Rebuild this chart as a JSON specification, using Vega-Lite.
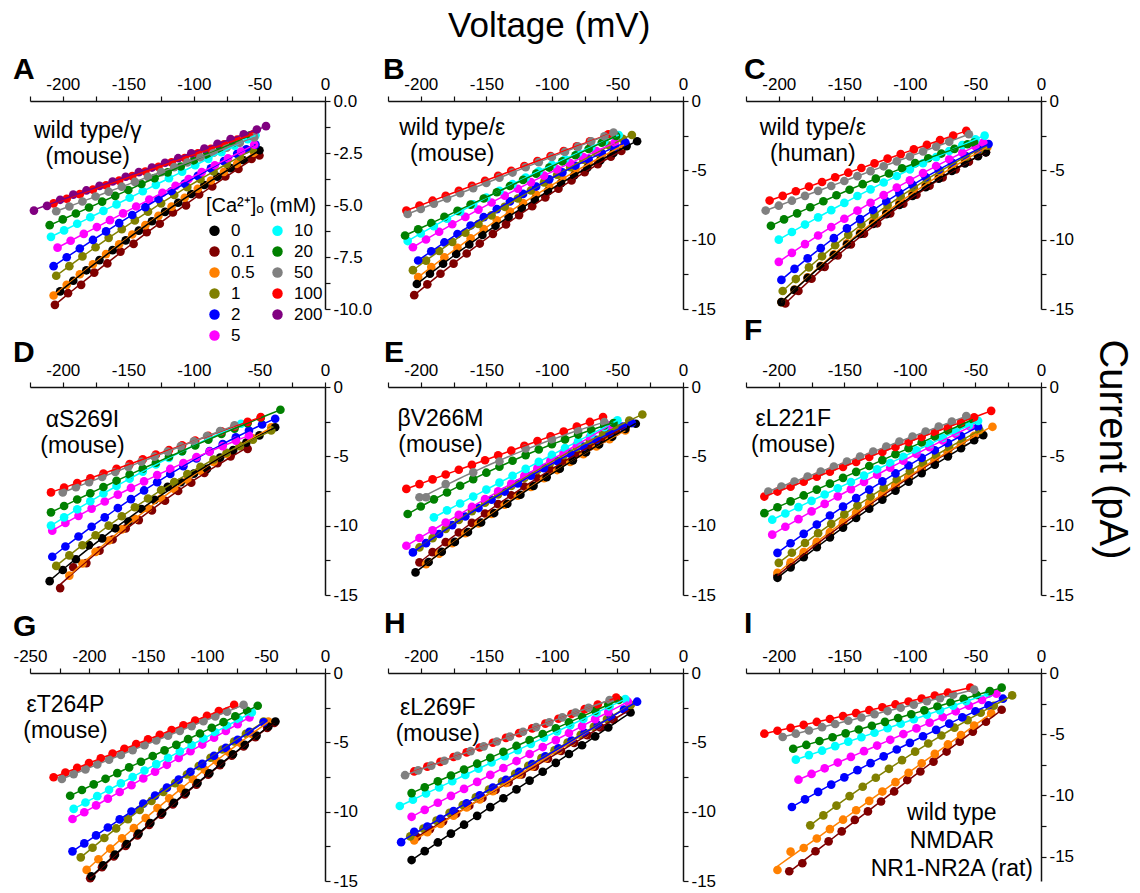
{
"$schema":"https://vega.github.io/schema/vega-lite/v6.json",
"padding":{"left":12,"top":9,"right":5,"bottom":0},
"background":"white",
"title":{"text":"Voltage (mV)","fontSize":35,"fontWeight":"normal","anchor":"start","frame":"group","offset":11,"dx":418},
"columns":3,
"spacing":{"row":78,"column":63},
"bounds":"flush",
"config":{
"font":"Liberation Sans",
"view":{"stroke":null},
"axis":{"grid":false,"domainColor":"#111","domainWidth":1.5,"tickColor":"#111","tickWidth":1.2,"tickSize":5,"labelFont":"Liberation Sans","labelFontSize":17,"labelColor":"#000","labelPadding":3,"labelFlush":false,"labelOverlap":false,"labelBound":false},
"title":{"font":"Liberation Sans","fontSize":30,"fontWeight":"bold","color":"#000","anchor":"start","frame":"group","offset":-10},
"legend":{"orient":"none","legendX":176,"legendY":95,"columns":2,"symbolType":"circle","symbolSize":110,"symbolStrokeWidth":0,"labelFont":"Liberation Sans","labelFontSize":17,"labelColor":"#000","titleFont":"Liberation Sans","titleFontSize":20,"titleFontWeight":"normal","titleColor":"#000","titlePadding":6,"rowPadding":3,"columnPadding":14,"labelOffset":8},
"text":{"font":"Liberation Sans","fontSize":23,"color":"#000","align":"center","baseline":"middle","lineHeight":26}
},
"datasets":{
"notes":[
{"p":"A","t":["wild type/γ","(mouse)"],"v":-181,"i":-1.44},
{"p":"B","t":["wild type/ε","(mouse)"],"v":-176,"i":-1.94},
{"p":"C","t":["wild type/ε","(human)"],"v":-174,"i":-1.94},
{"p":"D","t":["αS269I","(mouse)"],"v":-185,"i":-2.38},
{"p":"E","t":["βV266M","(mouse)"],"v":-185,"i":-2.31},
{"p":"F","t":["εL221F","(mouse)"],"v":-189,"i":-2.31},
{"p":"G","t":["εT264P","(mouse)"],"v":-220,"i":-2.31},
{"p":"H","t":["εL269F","(mouse)"],"v":-187,"i":-2.52},
{"p":"I","t":["wild type","NMDAR","NR1-NR2A (rat)"],"v":-68,"i":-11.46}
],
"A":[
{"c":0.1,"v":-206,"i":-9.8},{"c":0.1,"v":-196,"i":-9.24},{"c":0.1,"v":-186,"i":-8.84},{"c":0.1,"v":-176,"i":-8.25},{"c":0.1,"v":-166,"i":-7.81},{"c":0.1,"v":-156,"i":-7.24},{"c":0.1,"v":-146,"i":-6.87},{"c":0.1,"v":-136,"i":-6.31},{"c":0.1,"v":-126,"i":-5.9},{"c":0.1,"v":-116,"i":-5.36},{"c":0.1,"v":-106,"i":-5.02},{"c":0.1,"v":-96,"i":-4.49},{"c":0.1,"v":-86,"i":-4.11},{"c":0.1,"v":-76,"i":-3.63},{"c":0.1,"v":-66,"i":-3.27},{"c":0.1,"v":-56,"i":-2.79},{"c":0.1,"v":-50,"i":-2.62},
{"c":0.5,"v":-207,"i":-9.35},{"c":0.5,"v":-197,"i":-8.84},{"c":0.5,"v":-187,"i":-8.33},{"c":0.5,"v":-177,"i":-7.85},{"c":0.5,"v":-167,"i":-7.36},{"c":0.5,"v":-157,"i":-6.89},{"c":0.5,"v":-147,"i":-6.42},{"c":0.5,"v":-137,"i":-5.97},{"c":0.5,"v":-127,"i":-5.52},{"c":0.5,"v":-117,"i":-5.08},{"c":0.5,"v":-107,"i":-4.65},{"c":0.5,"v":-97,"i":-4.22},{"c":0.5,"v":-87,"i":-3.82},{"c":0.5,"v":-77,"i":-3.41},{"c":0.5,"v":-67,"i":-3.02},{"c":0.5,"v":-54,"i":-2.5},
{"c":0,"v":-202,"i":-9.15},{"c":0,"v":-192,"i":-8.64},{"c":0,"v":-182,"i":-8.14},{"c":0,"v":-172,"i":-7.65},{"c":0,"v":-162,"i":-7.17},{"c":0,"v":-152,"i":-6.7},{"c":0,"v":-142,"i":-6.23},{"c":0,"v":-132,"i":-5.78},{"c":0,"v":-122,"i":-5.33},{"c":0,"v":-112,"i":-4.89},{"c":0,"v":-102,"i":-4.47},{"c":0,"v":-92,"i":-4.04},{"c":0,"v":-82,"i":-3.64},{"c":0,"v":-72,"i":-3.23},{"c":0,"v":-62,"i":-2.85},{"c":0,"v":-50,"i":-2.37},
{"c":1,"v":-205,"i":-8.4},{"c":1,"v":-195,"i":-7.94},{"c":1,"v":-185,"i":-7.47},{"c":1,"v":-175,"i":-7.03},{"c":1,"v":-165,"i":-6.58},{"c":1,"v":-155,"i":-6.16},{"c":1,"v":-145,"i":-5.74},{"c":1,"v":-135,"i":-5.32},{"c":1,"v":-125,"i":-4.92},{"c":1,"v":-115,"i":-4.52},{"c":1,"v":-105,"i":-4.14},{"c":1,"v":-95,"i":-3.76},{"c":1,"v":-85,"i":-3.39},{"c":1,"v":-75,"i":-3.03},{"c":1,"v":-65,"i":-2.68},{"c":1,"v":-55,"i":-2.34},
{"c":2,"v":-207,"i":-7.94},{"c":2,"v":-197,"i":-7.51},{"c":2,"v":-187,"i":-7.09},{"c":2,"v":-177,"i":-6.68},{"c":2,"v":-167,"i":-6.27},{"c":2,"v":-157,"i":-5.87},{"c":2,"v":-147,"i":-5.48},{"c":2,"v":-137,"i":-5.1},{"c":2,"v":-127,"i":-4.71},{"c":2,"v":-117,"i":-4.34},{"c":2,"v":-107,"i":-3.97},{"c":2,"v":-97,"i":-3.6},{"c":2,"v":-87,"i":-3.24},{"c":2,"v":-77,"i":-2.89},{"c":2,"v":-67,"i":-2.54},{"c":2,"v":-60,"i":-2.32},{"c":2,"v":-53,"i":-2.1},
{"c":5,"v":-204,"i":-7.05},{"c":5,"v":-194,"i":-6.72},{"c":5,"v":-184,"i":-6.39},{"c":5,"v":-174,"i":-6.06},{"c":5,"v":-164,"i":-5.73},{"c":5,"v":-154,"i":-5.4},{"c":5,"v":-144,"i":-5.07},{"c":5,"v":-134,"i":-4.74},{"c":5,"v":-124,"i":-4.41},{"c":5,"v":-114,"i":-4.08},{"c":5,"v":-104,"i":-3.75},{"c":5,"v":-94,"i":-3.42},{"c":5,"v":-84,"i":-3.09},{"c":5,"v":-74,"i":-2.76},{"c":5,"v":-64,"i":-2.43},{"c":5,"v":-54,"i":-2.1},
{"c":10,"v":-209,"i":-6.53},{"c":10,"v":-199,"i":-6.22},{"c":10,"v":-189,"i":-5.9},{"c":10,"v":-179,"i":-5.59},{"c":10,"v":-169,"i":-5.28},{"c":10,"v":-159,"i":-4.97},{"c":10,"v":-149,"i":-4.65},{"c":10,"v":-139,"i":-4.34},{"c":10,"v":-129,"i":-4.03},{"c":10,"v":-119,"i":-3.71},{"c":10,"v":-109,"i":-3.4},{"c":10,"v":-99,"i":-3.09},{"c":10,"v":-89,"i":-2.78},{"c":10,"v":-79,"i":-2.46},{"c":10,"v":-69,"i":-2.15},{"c":10,"v":-59,"i":-1.84},{"c":10,"v":-53,"i":-1.65},
{"c":20,"v":-210,"i":-5.97},{"c":20,"v":-200,"i":-5.69},{"c":20,"v":-190,"i":-5.41},{"c":20,"v":-180,"i":-5.12},{"c":20,"v":-170,"i":-4.84},{"c":20,"v":-160,"i":-4.56},{"c":20,"v":-150,"i":-4.28},{"c":20,"v":-140,"i":-3.99},{"c":20,"v":-130,"i":-3.71},{"c":20,"v":-120,"i":-3.43},{"c":20,"v":-110,"i":-3.15},{"c":20,"v":-100,"i":-2.86},{"c":20,"v":-90,"i":-2.58},{"c":20,"v":-80,"i":-2.3},{"c":20,"v":-70,"i":-2.02},{"c":20,"v":-57,"i":-1.65},
{"c":100,"v":-207,"i":-4.92},{"c":100,"v":-197,"i":-4.7},{"c":100,"v":-187,"i":-4.48},{"c":100,"v":-177,"i":-4.26},{"c":100,"v":-167,"i":-4.05},{"c":100,"v":-157,"i":-3.83},{"c":100,"v":-147,"i":-3.61},{"c":100,"v":-137,"i":-3.39},{"c":100,"v":-127,"i":-3.17},{"c":100,"v":-117,"i":-2.95},{"c":100,"v":-107,"i":-2.74},{"c":100,"v":-97,"i":-2.52},{"c":100,"v":-87,"i":-2.3},{"c":100,"v":-77,"i":-2.08},{"c":100,"v":-67,"i":-1.86},{"c":100,"v":-55,"i":-1.6},
{"c":50,"v":-205,"i":-5.3},{"c":50,"v":-195,"i":-5.07},{"c":50,"v":-185,"i":-4.83},{"c":50,"v":-175,"i":-4.59},{"c":50,"v":-165,"i":-4.36},{"c":50,"v":-155,"i":-4.12},{"c":50,"v":-145,"i":-3.89},{"c":50,"v":-135,"i":-3.65},{"c":50,"v":-125,"i":-3.42},{"c":50,"v":-115,"i":-3.18},{"c":50,"v":-105,"i":-2.95},{"c":50,"v":-95,"i":-2.71},{"c":50,"v":-85,"i":-2.48},{"c":50,"v":-75,"i":-2.24},{"c":50,"v":-65,"i":-2.01},{"c":50,"v":-54,"i":-1.75},
{"c":200,"v":-222,"i":-5.27},{"c":200,"v":-212,"i":-5.04},{"c":200,"v":-202,"i":-4.75},{"c":200,"v":-192,"i":-4.5},{"c":200,"v":-182,"i":-4.3},{"c":200,"v":-172,"i":-4.08},{"c":200,"v":-162,"i":-3.87},{"c":200,"v":-152,"i":-3.64},{"c":200,"v":-142,"i":-3.42},{"c":200,"v":-132,"i":-3.2},{"c":200,"v":-122,"i":-2.97},{"c":200,"v":-112,"i":-2.75},{"c":200,"v":-102,"i":-2.52},{"c":200,"v":-92,"i":-2.29},{"c":200,"v":-82,"i":-2.06},{"c":200,"v":-72,"i":-1.83},{"c":200,"v":-62,"i":-1.6},{"c":200,"v":-52,"i":-1.37},{"c":200,"v":-45,"i":-1.21}
],
"B":[
{"c":0.1,"v":-205,"i":-14},{"c":0.1,"v":-195,"i":-13.22},{"c":0.1,"v":-185,"i":-12.46},{"c":0.1,"v":-175,"i":-11.73},{"c":0.1,"v":-165,"i":-11},{"c":0.1,"v":-155,"i":-10.28},{"c":0.1,"v":-145,"i":-9.58},{"c":0.1,"v":-135,"i":-8.9},{"c":0.1,"v":-125,"i":-8.23},{"c":0.1,"v":-115,"i":-7.59},{"c":0.1,"v":-105,"i":-6.95},{"c":0.1,"v":-95,"i":-6.33},{"c":0.1,"v":-85,"i":-5.73},{"c":0.1,"v":-75,"i":-5.14},{"c":0.1,"v":-65,"i":-4.56},{"c":0.1,"v":-55,"i":-4.01},{"c":0.1,"v":-47,"i":-3.6},
{"c":0.5,"v":-202,"i":-12.7},{"c":0.5,"v":-192,"i":-11.97},{"c":0.5,"v":-182,"i":-11.27},{"c":0.5,"v":-172,"i":-10.58},{"c":0.5,"v":-162,"i":-9.91},{"c":0.5,"v":-152,"i":-9.24},{"c":0.5,"v":-142,"i":-8.6},{"c":0.5,"v":-132,"i":-7.97},{"c":0.5,"v":-122,"i":-7.36},{"c":0.5,"v":-112,"i":-6.76},{"c":0.5,"v":-102,"i":-6.18},{"c":0.5,"v":-92,"i":-5.61},{"c":0.5,"v":-82,"i":-5.07},{"c":0.5,"v":-72,"i":-4.53},{"c":0.5,"v":-62,"i":-4.01},{"c":0.5,"v":-52,"i":-3.5},{"c":0.5,"v":-45,"i":-3.2},
{"c":0,"v":-203,"i":-13.2},{"c":0,"v":-193,"i":-12.46},{"c":0,"v":-183,"i":-11.74},{"c":0,"v":-173,"i":-11.03},{"c":0,"v":-163,"i":-10.34},{"c":0,"v":-153,"i":-9.66},{"c":0,"v":-143,"i":-9},{"c":0,"v":-133,"i":-8.36},{"c":0,"v":-123,"i":-7.72},{"c":0,"v":-113,"i":-7.11},{"c":0,"v":-103,"i":-6.51},{"c":0,"v":-93,"i":-5.93},{"c":0,"v":-83,"i":-5.37},{"c":0,"v":-73,"i":-4.81},{"c":0,"v":-63,"i":-4.27},{"c":0,"v":-53,"i":-3.75},{"c":0,"v":-43,"i":-3.25},{"c":0,"v":-35,"i":-2.9},
{"c":1,"v":-206,"i":-12.2},{"c":1,"v":-196,"i":-11.51},{"c":1,"v":-186,"i":-10.82},{"c":1,"v":-176,"i":-10.16},{"c":1,"v":-166,"i":-9.5},{"c":1,"v":-156,"i":-8.87},{"c":1,"v":-146,"i":-8.25},{"c":1,"v":-136,"i":-7.63},{"c":1,"v":-126,"i":-7.03},{"c":1,"v":-116,"i":-6.45},{"c":1,"v":-106,"i":-5.87},{"c":1,"v":-96,"i":-5.32},{"c":1,"v":-86,"i":-4.77},{"c":1,"v":-76,"i":-4.24},{"c":1,"v":-66,"i":-3.73},{"c":1,"v":-56,"i":-3.22},{"c":1,"v":-46,"i":-2.73},{"c":1,"v":-39,"i":-2.45},
{"c":2,"v":-202,"i":-11.5},{"c":2,"v":-192,"i":-10.84},{"c":2,"v":-182,"i":-10.2},{"c":2,"v":-172,"i":-9.59},{"c":2,"v":-162,"i":-8.98},{"c":2,"v":-152,"i":-8.38},{"c":2,"v":-142,"i":-7.8},{"c":2,"v":-132,"i":-7.24},{"c":2,"v":-122,"i":-6.7},{"c":2,"v":-112,"i":-6.17},{"c":2,"v":-102,"i":-5.65},{"c":2,"v":-92,"i":-5.15},{"c":2,"v":-82,"i":-4.67},{"c":2,"v":-72,"i":-4.21},{"c":2,"v":-62,"i":-3.75},{"c":2,"v":-52,"i":-3.31},{"c":2,"v":-44,"i":-3},
{"c":5,"v":-206,"i":-10.55},{"c":5,"v":-196,"i":-9.99},{"c":5,"v":-186,"i":-9.43},{"c":5,"v":-176,"i":-8.89},{"c":5,"v":-166,"i":-8.36},{"c":5,"v":-156,"i":-7.83},{"c":5,"v":-146,"i":-7.32},{"c":5,"v":-136,"i":-6.82},{"c":5,"v":-126,"i":-6.33},{"c":5,"v":-116,"i":-5.85},{"c":5,"v":-106,"i":-5.38},{"c":5,"v":-96,"i":-4.93},{"c":5,"v":-86,"i":-4.48},{"c":5,"v":-76,"i":-4.04},{"c":5,"v":-66,"i":-3.62},{"c":5,"v":-52,"i":-3},
{"c":10,"v":-210,"i":-10.1},{"c":10,"v":-200,"i":-9.55},{"c":10,"v":-190,"i":-9.02},{"c":10,"v":-180,"i":-8.49},{"c":10,"v":-170,"i":-7.98},{"c":10,"v":-160,"i":-7.46},{"c":10,"v":-150,"i":-6.97},{"c":10,"v":-140,"i":-6.48},{"c":10,"v":-130,"i":-6},{"c":10,"v":-120,"i":-5.53},{"c":10,"v":-110,"i":-5.07},{"c":10,"v":-100,"i":-4.61},{"c":10,"v":-90,"i":-4.18},{"c":10,"v":-80,"i":-3.74},{"c":10,"v":-70,"i":-3.32},{"c":10,"v":-60,"i":-2.9},{"c":10,"v":-49,"i":-2.45},
{"c":20,"v":-212,"i":-9.7},{"c":20,"v":-202,"i":-9.25},{"c":20,"v":-192,"i":-8.81},{"c":20,"v":-182,"i":-8.36},{"c":20,"v":-172,"i":-7.92},{"c":20,"v":-162,"i":-7.47},{"c":20,"v":-152,"i":-7.03},{"c":20,"v":-142,"i":-6.58},{"c":20,"v":-132,"i":-6.13},{"c":20,"v":-122,"i":-5.69},{"c":20,"v":-112,"i":-5.24},{"c":20,"v":-102,"i":-4.8},{"c":20,"v":-92,"i":-4.35},{"c":20,"v":-82,"i":-3.91},{"c":20,"v":-72,"i":-3.46},{"c":20,"v":-62,"i":-3.01},{"c":20,"v":-51,"i":-2.52},
{"c":100,"v":-211,"i":-7.9},{"c":100,"v":-201,"i":-7.54},{"c":100,"v":-191,"i":-7.19},{"c":100,"v":-181,"i":-6.83},{"c":100,"v":-171,"i":-6.47},{"c":100,"v":-161,"i":-6.11},{"c":100,"v":-151,"i":-5.76},{"c":100,"v":-141,"i":-5.4},{"c":100,"v":-131,"i":-5.04},{"c":100,"v":-121,"i":-4.69},{"c":100,"v":-111,"i":-4.33},{"c":100,"v":-101,"i":-3.97},{"c":100,"v":-91,"i":-3.61},{"c":100,"v":-81,"i":-3.26},{"c":100,"v":-71,"i":-2.9},{"c":100,"v":-57,"i":-2.4},
{"c":50,"v":-210,"i":-8.15},{"c":50,"v":-200,"i":-7.78},{"c":50,"v":-190,"i":-7.4},{"c":50,"v":-180,"i":-7.03},{"c":50,"v":-170,"i":-6.65},{"c":50,"v":-160,"i":-6.28},{"c":50,"v":-150,"i":-5.91},{"c":50,"v":-140,"i":-5.53},{"c":50,"v":-130,"i":-5.16},{"c":50,"v":-120,"i":-4.78},{"c":50,"v":-110,"i":-4.41},{"c":50,"v":-100,"i":-4.04},{"c":50,"v":-90,"i":-3.66},{"c":50,"v":-80,"i":-3.29},{"c":50,"v":-70,"i":-2.91},{"c":50,"v":-60,"i":-2.54},{"c":50,"v":-53,"i":-2.28}
],
"C":[
{"c":0.1,"v":-195,"i":-14.6},{"c":0.1,"v":-185,"i":-13.7},{"c":0.1,"v":-175,"i":-12.82},{"c":0.1,"v":-165,"i":-11.96},{"c":0.1,"v":-155,"i":-11.13},{"c":0.1,"v":-145,"i":-10.34},{"c":0.1,"v":-135,"i":-9.57},{"c":0.1,"v":-125,"i":-8.82},{"c":0.1,"v":-115,"i":-8.1},{"c":0.1,"v":-105,"i":-7.41},{"c":0.1,"v":-95,"i":-6.76},{"c":0.1,"v":-85,"i":-6.11},{"c":0.1,"v":-75,"i":-5.51},{"c":0.1,"v":-65,"i":-4.93},{"c":0.1,"v":-55,"i":-4.38},{"c":0.1,"v":-42,"i":-3.7},
{"c":0.5,"v":-198,"i":-14.5},{"c":0.5,"v":-188,"i":-13.6},{"c":0.5,"v":-178,"i":-12.72},{"c":0.5,"v":-168,"i":-11.88},{"c":0.5,"v":-158,"i":-11.05},{"c":0.5,"v":-148,"i":-10.26},{"c":0.5,"v":-138,"i":-9.48},{"c":0.5,"v":-128,"i":-8.74},{"c":0.5,"v":-118,"i":-8.02},{"c":0.5,"v":-108,"i":-7.33},{"c":0.5,"v":-98,"i":-6.66},{"c":0.5,"v":-88,"i":-6.02},{"c":0.5,"v":-78,"i":-5.4},{"c":0.5,"v":-68,"i":-4.81},{"c":0.5,"v":-58,"i":-4.25},{"c":0.5,"v":-48,"i":-3.71},{"c":0.5,"v":-41,"i":-3.35},
{"c":0,"v":-198,"i":-14.5},{"c":0,"v":-188,"i":-13.62},{"c":0,"v":-178,"i":-12.76},{"c":0,"v":-168,"i":-11.93},{"c":0,"v":-158,"i":-11.12},{"c":0,"v":-148,"i":-10.35},{"c":0,"v":-138,"i":-9.59},{"c":0,"v":-128,"i":-8.86},{"c":0,"v":-118,"i":-8.16},{"c":0,"v":-108,"i":-7.49},{"c":0,"v":-98,"i":-6.84},{"c":0,"v":-88,"i":-6.21},{"c":0,"v":-78,"i":-5.61},{"c":0,"v":-68,"i":-5.04},{"c":0,"v":-58,"i":-4.5},{"c":0,"v":-48,"i":-3.98},{"c":0,"v":-42,"i":-3.7},
{"c":1,"v":-197,"i":-13.7},{"c":1,"v":-187,"i":-12.84},{"c":1,"v":-177,"i":-12},{"c":1,"v":-167,"i":-11.2},{"c":1,"v":-157,"i":-10.4},{"c":1,"v":-147,"i":-9.65},{"c":1,"v":-137,"i":-8.91},{"c":1,"v":-127,"i":-8.21},{"c":1,"v":-117,"i":-7.53},{"c":1,"v":-107,"i":-6.88},{"c":1,"v":-97,"i":-6.25},{"c":1,"v":-87,"i":-5.65},{"c":1,"v":-77,"i":-5.07},{"c":1,"v":-67,"i":-4.51},{"c":1,"v":-57,"i":-3.99},{"c":1,"v":-47,"i":-3.49},{"c":1,"v":-41,"i":-3.23},
{"c":2,"v":-198,"i":-12.9},{"c":2,"v":-188,"i":-12.11},{"c":2,"v":-178,"i":-11.35},{"c":2,"v":-168,"i":-10.61},{"c":2,"v":-158,"i":-9.89},{"c":2,"v":-148,"i":-9.19},{"c":2,"v":-138,"i":-8.52},{"c":2,"v":-128,"i":-7.87},{"c":2,"v":-118,"i":-7.24},{"c":2,"v":-108,"i":-6.63},{"c":2,"v":-98,"i":-6.05},{"c":2,"v":-88,"i":-5.49},{"c":2,"v":-78,"i":-4.96},{"c":2,"v":-68,"i":-4.44},{"c":2,"v":-58,"i":-3.95},{"c":2,"v":-48,"i":-3.48},{"c":2,"v":-40,"i":-3.1},
{"c":5,"v":-200,"i":-11.6},{"c":5,"v":-190,"i":-10.95},{"c":5,"v":-180,"i":-10.32},{"c":5,"v":-170,"i":-9.7},{"c":5,"v":-160,"i":-9.09},{"c":5,"v":-150,"i":-8.49},{"c":5,"v":-140,"i":-7.91},{"c":5,"v":-130,"i":-7.34},{"c":5,"v":-120,"i":-6.79},{"c":5,"v":-110,"i":-6.25},{"c":5,"v":-100,"i":-5.72},{"c":5,"v":-90,"i":-5.2},{"c":5,"v":-80,"i":-4.69},{"c":5,"v":-70,"i":-4.2},{"c":5,"v":-60,"i":-3.73},{"c":5,"v":-50,"i":-3.26},{"c":5,"v":-44,"i":-3},
{"c":10,"v":-200,"i":-10},{"c":10,"v":-190,"i":-9.45},{"c":10,"v":-180,"i":-8.91},{"c":10,"v":-170,"i":-8.39},{"c":10,"v":-160,"i":-7.87},{"c":10,"v":-150,"i":-7.35},{"c":10,"v":-140,"i":-6.85},{"c":10,"v":-130,"i":-6.37},{"c":10,"v":-120,"i":-5.88},{"c":10,"v":-110,"i":-5.41},{"c":10,"v":-100,"i":-4.94},{"c":10,"v":-90,"i":-4.49},{"c":10,"v":-80,"i":-4.05},{"c":10,"v":-70,"i":-3.61},{"c":10,"v":-60,"i":-3.18},{"c":10,"v":-50,"i":-2.76},{"c":10,"v":-43,"i":-2.5},
{"c":20,"v":-206,"i":-9},{"c":20,"v":-196,"i":-8.54},{"c":20,"v":-186,"i":-8.1},{"c":20,"v":-176,"i":-7.66},{"c":20,"v":-166,"i":-7.23},{"c":20,"v":-156,"i":-6.8},{"c":20,"v":-146,"i":-6.4},{"c":20,"v":-136,"i":-6},{"c":20,"v":-126,"i":-5.6},{"c":20,"v":-116,"i":-5.23},{"c":20,"v":-106,"i":-4.85},{"c":20,"v":-96,"i":-4.48},{"c":20,"v":-86,"i":-4.13},{"c":20,"v":-76,"i":-3.79},{"c":20,"v":-66,"i":-3.45},{"c":20,"v":-56,"i":-3.12},{"c":20,"v":-51,"i":-3},
{"c":100,"v":-207,"i":-7.18},{"c":100,"v":-197,"i":-6.84},{"c":100,"v":-187,"i":-6.51},{"c":100,"v":-177,"i":-6.17},{"c":100,"v":-167,"i":-5.84},{"c":100,"v":-157,"i":-5.5},{"c":100,"v":-147,"i":-5.17},{"c":100,"v":-137,"i":-4.83},{"c":100,"v":-127,"i":-4.5},{"c":100,"v":-117,"i":-4.16},{"c":100,"v":-107,"i":-3.83},{"c":100,"v":-97,"i":-3.49},{"c":100,"v":-87,"i":-3.16},{"c":100,"v":-77,"i":-2.82},{"c":100,"v":-67,"i":-2.49},{"c":100,"v":-57,"i":-2.15},
{"c":50,"v":-210,"i":-7.9},{"c":50,"v":-200,"i":-7.55},{"c":50,"v":-190,"i":-7.19},{"c":50,"v":-180,"i":-6.84},{"c":50,"v":-170,"i":-6.48},{"c":50,"v":-160,"i":-6.13},{"c":50,"v":-150,"i":-5.77},{"c":50,"v":-140,"i":-5.42},{"c":50,"v":-130,"i":-5.06},{"c":50,"v":-120,"i":-4.71},{"c":50,"v":-110,"i":-4.35},{"c":50,"v":-100,"i":-4},{"c":50,"v":-90,"i":-3.64},{"c":50,"v":-80,"i":-3.29},{"c":50,"v":-70,"i":-2.93},{"c":50,"v":-55,"i":-2.4}
],
"D":[
{"c":0.1,"v":-202,"i":-14.5},{"c":0.1,"v":-192,"i":-13},{"c":0.1,"v":-182,"i":-12.7},{"c":0.1,"v":-172,"i":-11.8},{"c":0.1,"v":-162,"i":-11},{"c":0.1,"v":-152,"i":-10.2},{"c":0.1,"v":-142,"i":-9.6},{"c":0.1,"v":-132,"i":-8.9},{"c":0.1,"v":-122,"i":-8.2},{"c":0.1,"v":-112,"i":-7.5},{"c":0.1,"v":-102,"i":-6.9},{"c":0.1,"v":-92,"i":-6.2},{"c":0.1,"v":-82,"i":-5.5},{"c":0.1,"v":-72,"i":-5},{"c":0.1,"v":-59,"i":-4.46},
{"c":0.5,"v":-195,"i":-13.6},{"c":0.5,"v":-185,"i":-12.73},{"c":0.5,"v":-175,"i":-11.89},{"c":0.5,"v":-165,"i":-11.07},{"c":0.5,"v":-155,"i":-10.27},{"c":0.5,"v":-145,"i":-9.51},{"c":0.5,"v":-135,"i":-8.76},{"c":0.5,"v":-125,"i":-8.04},{"c":0.5,"v":-115,"i":-7.35},{"c":0.5,"v":-105,"i":-6.68},{"c":0.5,"v":-95,"i":-6.04},{"c":0.5,"v":-85,"i":-5.41},{"c":0.5,"v":-75,"i":-4.82},{"c":0.5,"v":-65,"i":-4.25},{"c":0.5,"v":-55,"i":-3.7},{"c":0.5,"v":-41,"i":-2.9},
{"c":0,"v":-210,"i":-14},{"c":0,"v":-200,"i":-13.2},{"c":0,"v":-190,"i":-12.42},{"c":0,"v":-180,"i":-11.4},{"c":0,"v":-170,"i":-10.92},{"c":0,"v":-160,"i":-10.19},{"c":0,"v":-150,"i":-9.7},{"c":0,"v":-140,"i":-8.8},{"c":0,"v":-130,"i":-8.14},{"c":0,"v":-120,"i":-7.2},{"c":0,"v":-110,"i":-6.87},{"c":0,"v":-100,"i":-6.25},{"c":0,"v":-90,"i":-5.9},{"c":0,"v":-80,"i":-5.09},{"c":0,"v":-70,"i":-4.55},{"c":0,"v":-60,"i":-4.01},{"c":0,"v":-50,"i":-3.49},{"c":0,"v":-38,"i":-2.9},
{"c":1,"v":-205,"i":-12.9},{"c":1,"v":-195,"i":-12.14},{"c":1,"v":-185,"i":-11.41},{"c":1,"v":-175,"i":-10.69},{"c":1,"v":-165,"i":-10},{"c":1,"v":-155,"i":-9.32},{"c":1,"v":-145,"i":-8.67},{"c":1,"v":-135,"i":-8.04},{"c":1,"v":-125,"i":-7.43},{"c":1,"v":-115,"i":-6.85},{"c":1,"v":-105,"i":-6.28},{"c":1,"v":-95,"i":-5.75},{"c":1,"v":-85,"i":-5.23},{"c":1,"v":-75,"i":-4.74},{"c":1,"v":-65,"i":-4.26},{"c":1,"v":-55,"i":-3.8},{"c":1,"v":-41,"i":-3.13},
{"c":2,"v":-208,"i":-12.24},{"c":2,"v":-198,"i":-11.5},{"c":2,"v":-188,"i":-10.78},{"c":2,"v":-178,"i":-10.08},{"c":2,"v":-168,"i":-9.4},{"c":2,"v":-158,"i":-8.73},{"c":2,"v":-148,"i":-8.09},{"c":2,"v":-138,"i":-7.46},{"c":2,"v":-128,"i":-6.86},{"c":2,"v":-118,"i":-6.27},{"c":2,"v":-108,"i":-5.71},{"c":2,"v":-98,"i":-5.15},{"c":2,"v":-88,"i":-4.63},{"c":2,"v":-78,"i":-4.11},{"c":2,"v":-68,"i":-3.63},{"c":2,"v":-58,"i":-3.15},{"c":2,"v":-48,"i":-2.7},{"c":2,"v":-38,"i":-2.29},
{"c":5,"v":-208,"i":-10.36},{"c":5,"v":-198,"i":-9.81},{"c":5,"v":-188,"i":-9.29},{"c":5,"v":-178,"i":-8.77},{"c":5,"v":-168,"i":-8.26},{"c":5,"v":-158,"i":-7.76},{"c":5,"v":-148,"i":-7.28},{"c":5,"v":-138,"i":-6.81},{"c":5,"v":-128,"i":-6.35},{"c":5,"v":-118,"i":-5.91},{"c":5,"v":-108,"i":-5.48},{"c":5,"v":-98,"i":-5.06},{"c":5,"v":-88,"i":-4.66},{"c":5,"v":-78,"i":-4.26},{"c":5,"v":-68,"i":-3.87},{"c":5,"v":-58,"i":-3.5},
{"c":10,"v":-209,"i":-10},{"c":10,"v":-199,"i":-9.4},{"c":10,"v":-189,"i":-8.82},{"c":10,"v":-179,"i":-8.24},{"c":10,"v":-169,"i":-7.68},{"c":10,"v":-159,"i":-7.14},{"c":10,"v":-149,"i":-6.61},{"c":10,"v":-139,"i":-6.1},{"c":10,"v":-129,"i":-5.59},{"c":10,"v":-119,"i":-5.11},{"c":10,"v":-109,"i":-4.64},{"c":10,"v":-99,"i":-4.18},{"c":10,"v":-89,"i":-3.75},{"c":10,"v":-79,"i":-3.32},{"c":10,"v":-64,"i":-2.65},
{"c":20,"v":-209,"i":-9.04},{"c":20,"v":-199,"i":-8.58},{"c":20,"v":-189,"i":-8.11},{"c":20,"v":-179,"i":-7.66},{"c":20,"v":-169,"i":-7.21},{"c":20,"v":-159,"i":-6.76},{"c":20,"v":-149,"i":-6.32},{"c":20,"v":-139,"i":-5.89},{"c":20,"v":-129,"i":-5.46},{"c":20,"v":-119,"i":-5.03},{"c":20,"v":-109,"i":-4.62},{"c":20,"v":-99,"i":-4.21},{"c":20,"v":-89,"i":-3.8},{"c":20,"v":-79,"i":-3.39},{"c":20,"v":-69,"i":-3},{"c":20,"v":-59,"i":-2.61},{"c":20,"v":-49,"i":-2.22},{"c":20,"v":-34,"i":-1.64},
{"c":100,"v":-209,"i":-7.6},{"c":100,"v":-199,"i":-7.26},{"c":100,"v":-189,"i":-6.92},{"c":100,"v":-179,"i":-6.58},{"c":100,"v":-169,"i":-6.24},{"c":100,"v":-159,"i":-5.9},{"c":100,"v":-149,"i":-5.56},{"c":100,"v":-139,"i":-5.22},{"c":100,"v":-129,"i":-4.88},{"c":100,"v":-119,"i":-4.55},{"c":100,"v":-109,"i":-4.21},{"c":100,"v":-99,"i":-3.87},{"c":100,"v":-89,"i":-3.53},{"c":100,"v":-79,"i":-3.19},{"c":100,"v":-69,"i":-2.85},{"c":100,"v":-59,"i":-2.51},{"c":100,"v":-49,"i":-2.17},
{"c":50,"v":-200,"i":-7.6},{"c":50,"v":-190,"i":-7.23},{"c":50,"v":-180,"i":-6.86},{"c":50,"v":-170,"i":-6.49},{"c":50,"v":-160,"i":-6.13},{"c":50,"v":-150,"i":-5.76},{"c":50,"v":-140,"i":-5.39},{"c":50,"v":-130,"i":-5.02},{"c":50,"v":-120,"i":-4.65},{"c":50,"v":-110,"i":-4.28},{"c":50,"v":-100,"i":-3.91},{"c":50,"v":-90,"i":-3.54},{"c":50,"v":-80,"i":-3.18},{"c":50,"v":-69,"i":-2.77}
],
"E":[
{"c":0.1,"v":-201,"i":-12.65},{"c":0.1,"v":-191,"i":-11.91},{"c":0.1,"v":-181,"i":-11.19},{"c":0.1,"v":-171,"i":-10.49},{"c":0.1,"v":-161,"i":-9.8},{"c":0.1,"v":-151,"i":-9.12},{"c":0.1,"v":-141,"i":-8.45},{"c":0.1,"v":-131,"i":-7.81},{"c":0.1,"v":-121,"i":-7.18},{"c":0.1,"v":-111,"i":-6.57},{"c":0.1,"v":-101,"i":-5.97},{"c":0.1,"v":-91,"i":-5.39},{"c":0.1,"v":-81,"i":-4.83},{"c":0.1,"v":-71,"i":-4.28},{"c":0.1,"v":-61,"i":-3.74},{"c":0.1,"v":-51,"i":-3.22},{"c":0.1,"v":-44,"i":-2.9},
{"c":0.5,"v":-196,"i":-12.77},{"c":0.5,"v":-186,"i":-12.02},{"c":0.5,"v":-176,"i":-11.27},{"c":0.5,"v":-166,"i":-10.55},{"c":0.5,"v":-156,"i":-9.84},{"c":0.5,"v":-146,"i":-9.16},{"c":0.5,"v":-136,"i":-8.48},{"c":0.5,"v":-126,"i":-7.83},{"c":0.5,"v":-116,"i":-7.2},{"c":0.5,"v":-106,"i":-6.58},{"c":0.5,"v":-96,"i":-5.99},{"c":0.5,"v":-86,"i":-5.4},{"c":0.5,"v":-76,"i":-4.84},{"c":0.5,"v":-66,"i":-4.29},{"c":0.5,"v":-56,"i":-3.77},{"c":0.5,"v":-44,"i":-3.13},
{"c":0,"v":-204,"i":-13.37},{"c":0,"v":-194,"i":-12.62},{"c":0,"v":-184,"i":-11.88},{"c":0,"v":-174,"i":-11.17},{"c":0,"v":-164,"i":-10.46},{"c":0,"v":-154,"i":-9.77},{"c":0,"v":-144,"i":-9.09},{"c":0,"v":-134,"i":-8.42},{"c":0,"v":-124,"i":-7.77},{"c":0,"v":-114,"i":-7.13},{"c":0,"v":-104,"i":-6.5},{"c":0,"v":-94,"i":-5.89},{"c":0,"v":-84,"i":-5.29},{"c":0,"v":-74,"i":-4.71},{"c":0,"v":-64,"i":-4.14},{"c":0,"v":-54,"i":-3.58},{"c":0,"v":-44,"i":-3.03},{"c":0,"v":-36,"i":-2.65},
{"c":1,"v":-201,"i":-11.57},{"c":1,"v":-191,"i":-10.9},{"c":1,"v":-181,"i":-10.23},{"c":1,"v":-171,"i":-9.59},{"c":1,"v":-161,"i":-8.95},{"c":1,"v":-151,"i":-8.34},{"c":1,"v":-141,"i":-7.74},{"c":1,"v":-131,"i":-7.14},{"c":1,"v":-121,"i":-6.56},{"c":1,"v":-111,"i":-5.99},{"c":1,"v":-101,"i":-5.44},{"c":1,"v":-91,"i":-4.91},{"c":1,"v":-81,"i":-4.38},{"c":1,"v":-71,"i":-3.87},{"c":1,"v":-61,"i":-3.37},{"c":1,"v":-51,"i":-2.89},{"c":1,"v":-41,"i":-2.42},{"c":1,"v":-31,"i":-1.98},
{"c":2,"v":-206,"i":-11.93},{"c":2,"v":-196,"i":-11.26},{"c":2,"v":-186,"i":-10.6},{"c":2,"v":-176,"i":-9.96},{"c":2,"v":-166,"i":-9.34},{"c":2,"v":-156,"i":-8.73},{"c":2,"v":-146,"i":-8.13},{"c":2,"v":-136,"i":-7.54},{"c":2,"v":-126,"i":-6.96},{"c":2,"v":-116,"i":-6.4},{"c":2,"v":-106,"i":-5.85},{"c":2,"v":-96,"i":-5.33},{"c":2,"v":-86,"i":-4.81},{"c":2,"v":-76,"i":-4.3},{"c":2,"v":-66,"i":-3.81},{"c":2,"v":-56,"i":-3.33},{"c":2,"v":-46,"i":-2.86},{"c":2,"v":-39,"i":-2.6},
{"c":5,"v":-211,"i":-11.45},{"c":5,"v":-201,"i":-10.89},{"c":5,"v":-191,"i":-10.33},{"c":5,"v":-181,"i":-9.77},{"c":5,"v":-171,"i":-9.21},{"c":5,"v":-161,"i":-8.65},{"c":5,"v":-151,"i":-8.09},{"c":5,"v":-141,"i":-7.53},{"c":5,"v":-131,"i":-6.97},{"c":5,"v":-121,"i":-6.41},{"c":5,"v":-111,"i":-5.85},{"c":5,"v":-101,"i":-5.29},{"c":5,"v":-91,"i":-4.73},{"c":5,"v":-81,"i":-4.17},{"c":5,"v":-71,"i":-3.61},{"c":5,"v":-56,"i":-2.77},
{"c":10,"v":-190,"i":-9.4},{"c":10,"v":-180,"i":-8.9},{"c":10,"v":-170,"i":-8.4},{"c":10,"v":-160,"i":-7.9},{"c":10,"v":-150,"i":-7.4},{"c":10,"v":-140,"i":-6.9},{"c":10,"v":-130,"i":-6.4},{"c":10,"v":-120,"i":-5.9},{"c":10,"v":-110,"i":-5.4},{"c":10,"v":-100,"i":-4.9},{"c":10,"v":-90,"i":-4.4},{"c":10,"v":-80,"i":-3.9},{"c":10,"v":-70,"i":-3.4},{"c":10,"v":-60,"i":-2.9},{"c":10,"v":-50,"i":-2.4},
{"c":20,"v":-210,"i":-9.16},{"c":20,"v":-200,"i":-8.62},{"c":20,"v":-190,"i":-8.1},{"c":20,"v":-180,"i":-7.61},{"c":20,"v":-170,"i":-7.12},{"c":20,"v":-160,"i":-6.64},{"c":20,"v":-150,"i":-6.18},{"c":20,"v":-140,"i":-5.75},{"c":20,"v":-130,"i":-5.32},{"c":20,"v":-120,"i":-4.91},{"c":20,"v":-110,"i":-4.51},{"c":20,"v":-100,"i":-4.13},{"c":20,"v":-90,"i":-3.78},{"c":20,"v":-80,"i":-3.43},{"c":20,"v":-70,"i":-3.09},{"c":20,"v":-60,"i":-2.77},{"c":20,"v":-53,"i":-2.6},
{"c":100,"v":-211,"i":-7.35},{"c":100,"v":-201,"i":-7},{"c":100,"v":-191,"i":-6.66},{"c":100,"v":-181,"i":-6.31},{"c":100,"v":-171,"i":-5.97},{"c":100,"v":-161,"i":-5.62},{"c":100,"v":-151,"i":-5.28},{"c":100,"v":-141,"i":-4.93},{"c":100,"v":-131,"i":-4.59},{"c":100,"v":-121,"i":-4.24},{"c":100,"v":-111,"i":-3.9},{"c":100,"v":-101,"i":-3.55},{"c":100,"v":-91,"i":-3.21},{"c":100,"v":-81,"i":-2.86},{"c":100,"v":-71,"i":-2.52},{"c":100,"v":-61,"i":-2.17},
{"c":50,"v":-201,"i":-7.95},{"c":50,"v":-196,"i":-7.95},{"c":50,"v":-181,"i":-7},{"c":50,"v":-160,"i":-6.16},{"c":50,"v":-140,"i":-5.37},{"c":50,"v":-120,"i":-4.43},{"c":50,"v":-100,"i":-3.78},{"c":50,"v":-80,"i":-3.16},{"c":50,"v":-60,"i":-2.53}
],
"F":[
{"c":0.1,"v":-201,"i":-13.6},{"c":0.1,"v":-191,"i":-12.83},{"c":0.1,"v":-181,"i":-12.08},{"c":0.1,"v":-171,"i":-11.33},{"c":0.1,"v":-161,"i":-10.61},{"c":0.1,"v":-151,"i":-9.9},{"c":0.1,"v":-141,"i":-9.21},{"c":0.1,"v":-131,"i":-8.52},{"c":0.1,"v":-121,"i":-7.85},{"c":0.1,"v":-111,"i":-7.2},{"c":0.1,"v":-101,"i":-6.55},{"c":0.1,"v":-91,"i":-5.93},{"c":0.1,"v":-81,"i":-5.31},{"c":0.1,"v":-71,"i":-4.72},{"c":0.1,"v":-61,"i":-4.14},{"c":0.1,"v":-51,"i":-3.57},
{"c":0.5,"v":-201,"i":-13.4},{"c":0.5,"v":-191,"i":-12.64},{"c":0.5,"v":-181,"i":-11.9},{"c":0.5,"v":-171,"i":-11.17},{"c":0.5,"v":-161,"i":-10.46},{"c":0.5,"v":-151,"i":-9.75},{"c":0.5,"v":-141,"i":-9.07},{"c":0.5,"v":-131,"i":-8.39},{"c":0.5,"v":-121,"i":-7.74},{"c":0.5,"v":-111,"i":-7.1},{"c":0.5,"v":-101,"i":-6.46},{"c":0.5,"v":-91,"i":-5.85},{"c":0.5,"v":-81,"i":-5.24},{"c":0.5,"v":-71,"i":-4.67},{"c":0.5,"v":-61,"i":-4.09},{"c":0.5,"v":-51,"i":-3.53},{"c":0.5,"v":-37,"i":-2.87},
{"c":0,"v":-201,"i":-13.76},{"c":0,"v":-191,"i":-13.01},{"c":0,"v":-181,"i":-12.28},{"c":0,"v":-171,"i":-11.55},{"c":0,"v":-161,"i":-10.84},{"c":0,"v":-151,"i":-10.14},{"c":0,"v":-141,"i":-9.45},{"c":0,"v":-131,"i":-8.78},{"c":0,"v":-121,"i":-8.12},{"c":0,"v":-111,"i":-7.47},{"c":0,"v":-101,"i":-6.83},{"c":0,"v":-91,"i":-6.21},{"c":0,"v":-81,"i":-5.6},{"c":0,"v":-71,"i":-5},{"c":0,"v":-61,"i":-4.42},{"c":0,"v":-51,"i":-3.84},{"c":0,"v":-44,"i":-3.47},
{"c":1,"v":-200,"i":-12.68},{"c":1,"v":-190,"i":-11.95},{"c":1,"v":-180,"i":-11.25},{"c":1,"v":-170,"i":-10.54},{"c":1,"v":-160,"i":-9.87},{"c":1,"v":-150,"i":-9.19},{"c":1,"v":-140,"i":-8.55},{"c":1,"v":-130,"i":-7.9},{"c":1,"v":-120,"i":-7.28},{"c":1,"v":-110,"i":-6.67},{"c":1,"v":-100,"i":-6.07},{"c":1,"v":-90,"i":-5.49},{"c":1,"v":-80,"i":-4.91},{"c":1,"v":-70,"i":-4.37},{"c":1,"v":-60,"i":-3.82},{"c":1,"v":-47,"i":-3.11},
{"c":2,"v":-201,"i":-11.96},{"c":2,"v":-191,"i":-11.27},{"c":2,"v":-181,"i":-10.59},{"c":2,"v":-171,"i":-9.92},{"c":2,"v":-161,"i":-9.27},{"c":2,"v":-151,"i":-8.63},{"c":2,"v":-141,"i":-8.01},{"c":2,"v":-131,"i":-7.4},{"c":2,"v":-121,"i":-6.81},{"c":2,"v":-111,"i":-6.23},{"c":2,"v":-101,"i":-5.66},{"c":2,"v":-91,"i":-5.11},{"c":2,"v":-81,"i":-4.57},{"c":2,"v":-71,"i":-4.05},{"c":2,"v":-61,"i":-3.54},{"c":2,"v":-48,"i":-2.87},
{"c":5,"v":-205,"i":-10.65},{"c":5,"v":-195,"i":-10.08},{"c":5,"v":-185,"i":-9.53},{"c":5,"v":-175,"i":-8.97},{"c":5,"v":-165,"i":-8.43},{"c":5,"v":-155,"i":-7.89},{"c":5,"v":-145,"i":-7.37},{"c":5,"v":-135,"i":-6.84},{"c":5,"v":-125,"i":-6.33},{"c":5,"v":-115,"i":-5.82},{"c":5,"v":-105,"i":-5.32},{"c":5,"v":-95,"i":-4.82},{"c":5,"v":-85,"i":-4.34},{"c":5,"v":-75,"i":-3.86},{"c":5,"v":-65,"i":-3.39},{"c":5,"v":-54,"i":-2.87},
{"c":10,"v":-205,"i":-9.57},{"c":10,"v":-195,"i":-9.12},{"c":10,"v":-185,"i":-8.66},{"c":10,"v":-175,"i":-8.21},{"c":10,"v":-165,"i":-7.75},{"c":10,"v":-155,"i":-7.3},{"c":10,"v":-145,"i":-6.85},{"c":10,"v":-135,"i":-6.39},{"c":10,"v":-125,"i":-5.94},{"c":10,"v":-115,"i":-5.48},{"c":10,"v":-105,"i":-5.03},{"c":10,"v":-95,"i":-4.57},{"c":10,"v":-85,"i":-4.12},{"c":10,"v":-75,"i":-3.67},{"c":10,"v":-65,"i":-3.21},{"c":10,"v":-55,"i":-2.76},{"c":10,"v":-48,"i":-2.44},
{"c":20,"v":-211,"i":-9.1},{"c":20,"v":-201,"i":-8.67},{"c":20,"v":-191,"i":-8.25},{"c":20,"v":-181,"i":-7.82},{"c":20,"v":-171,"i":-7.4},{"c":20,"v":-161,"i":-6.97},{"c":20,"v":-151,"i":-6.55},{"c":20,"v":-141,"i":-6.12},{"c":20,"v":-131,"i":-5.7},{"c":20,"v":-121,"i":-5.27},{"c":20,"v":-111,"i":-4.85},{"c":20,"v":-101,"i":-4.42},{"c":20,"v":-91,"i":-4},{"c":20,"v":-81,"i":-3.57},{"c":20,"v":-71,"i":-3.15},{"c":20,"v":-61,"i":-2.72},{"c":20,"v":-52,"i":-2.34},
{"c":100,"v":-211,"i":-7.9},{"c":100,"v":-201,"i":-7.54},{"c":100,"v":-191,"i":-7.19},{"c":100,"v":-181,"i":-6.83},{"c":100,"v":-171,"i":-6.47},{"c":100,"v":-161,"i":-6.11},{"c":100,"v":-151,"i":-5.76},{"c":100,"v":-141,"i":-5.4},{"c":100,"v":-131,"i":-5.04},{"c":100,"v":-121,"i":-4.69},{"c":100,"v":-111,"i":-4.33},{"c":100,"v":-101,"i":-3.97},{"c":100,"v":-91,"i":-3.61},{"c":100,"v":-81,"i":-3.26},{"c":100,"v":-71,"i":-2.9},{"c":100,"v":-61,"i":-2.54},{"c":100,"v":-51,"i":-2.19},{"c":100,"v":-38,"i":-1.72},
{"c":50,"v":-208,"i":-7.54},{"c":50,"v":-198,"i":-7.18},{"c":50,"v":-188,"i":-6.82},{"c":50,"v":-178,"i":-6.46},{"c":50,"v":-168,"i":-6.1},{"c":50,"v":-158,"i":-5.74},{"c":50,"v":-148,"i":-5.38},{"c":50,"v":-138,"i":-5.02},{"c":50,"v":-128,"i":-4.66},{"c":50,"v":-118,"i":-4.3},{"c":50,"v":-108,"i":-3.94},{"c":50,"v":-98,"i":-3.58},{"c":50,"v":-88,"i":-3.22},{"c":50,"v":-78,"i":-2.86},{"c":50,"v":-68,"i":-2.5},{"c":50,"v":-57,"i":-2.1}
],
"G":[
{"c":0.1,"v":-199,"i":-14.8},{"c":0.1,"v":-189,"i":-14.01},{"c":0.1,"v":-179,"i":-13.23},{"c":0.1,"v":-169,"i":-12.47},{"c":0.1,"v":-159,"i":-11.71},{"c":0.1,"v":-149,"i":-10.95},{"c":0.1,"v":-139,"i":-10.21},{"c":0.1,"v":-129,"i":-9.48},{"c":0.1,"v":-119,"i":-8.76},{"c":0.1,"v":-109,"i":-8.05},{"c":0.1,"v":-99,"i":-7.34},{"c":0.1,"v":-89,"i":-6.64},{"c":0.1,"v":-79,"i":-5.97},{"c":0.1,"v":-69,"i":-5.29},{"c":0.1,"v":-59,"i":-4.62},{"c":0.1,"v":-49,"i":-3.96},{"c":0.1,"v":-43,"i":-3.6},
{"c":0.5,"v":-202,"i":-14.2},{"c":0.5,"v":-192,"i":-13.43},{"c":0.5,"v":-182,"i":-12.67},{"c":0.5,"v":-172,"i":-11.93},{"c":0.5,"v":-162,"i":-11.19},{"c":0.5,"v":-152,"i":-10.46},{"c":0.5,"v":-142,"i":-9.74},{"c":0.5,"v":-132,"i":-9.04},{"c":0.5,"v":-122,"i":-8.34},{"c":0.5,"v":-112,"i":-7.66},{"c":0.5,"v":-102,"i":-6.98},{"c":0.5,"v":-92,"i":-6.33},{"c":0.5,"v":-82,"i":-5.67},{"c":0.5,"v":-72,"i":-5.03},{"c":0.5,"v":-62,"i":-4.4},{"c":0.5,"v":-48,"i":-3.5},
{"c":0,"v":-198,"i":-14.66},{"c":0,"v":-188,"i":-13.87},{"c":0,"v":-178,"i":-13.1},{"c":0,"v":-168,"i":-12.33},{"c":0,"v":-158,"i":-11.58},{"c":0,"v":-148,"i":-10.82},{"c":0,"v":-138,"i":-10.09},{"c":0,"v":-128,"i":-9.36},{"c":0,"v":-118,"i":-8.64},{"c":0,"v":-108,"i":-7.93},{"c":0,"v":-98,"i":-7.23},{"c":0,"v":-88,"i":-6.53},{"c":0,"v":-78,"i":-5.86},{"c":0,"v":-68,"i":-5.18},{"c":0,"v":-58,"i":-4.52},{"c":0,"v":-48,"i":-3.86},{"c":0,"v":-42,"i":-3.5},
{"c":1,"v":-207,"i":-13.3},{"c":1,"v":-197,"i":-12.6},{"c":1,"v":-187,"i":-11.9},{"c":1,"v":-177,"i":-11.21},{"c":1,"v":-167,"i":-10.54},{"c":1,"v":-157,"i":-9.87},{"c":1,"v":-147,"i":-9.22},{"c":1,"v":-137,"i":-8.57},{"c":1,"v":-127,"i":-7.94},{"c":1,"v":-117,"i":-7.32},{"c":1,"v":-107,"i":-6.71},{"c":1,"v":-97,"i":-6.11},{"c":1,"v":-87,"i":-5.52},{"c":1,"v":-77,"i":-4.94},{"c":1,"v":-67,"i":-4.38},{"c":1,"v":-52,"i":-3.5},
{"c":2,"v":-214,"i":-12.86},{"c":2,"v":-204,"i":-12.29},{"c":2,"v":-194,"i":-11.71},{"c":2,"v":-184,"i":-11.14},{"c":2,"v":-174,"i":-10.56},{"c":2,"v":-164,"i":-9.99},{"c":2,"v":-154,"i":-9.42},{"c":2,"v":-144,"i":-8.84},{"c":2,"v":-134,"i":-8.27},{"c":2,"v":-124,"i":-7.69},{"c":2,"v":-114,"i":-7.12},{"c":2,"v":-104,"i":-6.55},{"c":2,"v":-94,"i":-5.97},{"c":2,"v":-84,"i":-5.4},{"c":2,"v":-74,"i":-4.82},{"c":2,"v":-64,"i":-4.25},{"c":2,"v":-52,"i":-3.56},
{"c":5,"v":-214,"i":-10.53},{"c":5,"v":-204,"i":-10.04},{"c":5,"v":-194,"i":-9.55},{"c":5,"v":-184,"i":-9.06},{"c":5,"v":-174,"i":-8.58},{"c":5,"v":-164,"i":-8.09},{"c":5,"v":-154,"i":-7.6},{"c":5,"v":-144,"i":-7.11},{"c":5,"v":-134,"i":-6.62},{"c":5,"v":-124,"i":-6.13},{"c":5,"v":-114,"i":-5.64},{"c":5,"v":-104,"i":-5.16},{"c":5,"v":-94,"i":-4.67},{"c":5,"v":-84,"i":-4.18},{"c":5,"v":-74,"i":-3.69},{"c":5,"v":-64,"i":-3.2},
{"c":10,"v":-213,"i":-9.8},{"c":10,"v":-203,"i":-9.34},{"c":10,"v":-193,"i":-8.88},{"c":10,"v":-183,"i":-8.42},{"c":10,"v":-173,"i":-7.96},{"c":10,"v":-163,"i":-7.5},{"c":10,"v":-153,"i":-7.03},{"c":10,"v":-143,"i":-6.57},{"c":10,"v":-133,"i":-6.11},{"c":10,"v":-123,"i":-5.65},{"c":10,"v":-113,"i":-5.19},{"c":10,"v":-103,"i":-4.73},{"c":10,"v":-93,"i":-4.27},{"c":10,"v":-83,"i":-3.81},{"c":10,"v":-73,"i":-3.35},{"c":10,"v":-62,"i":-2.84},
{"c":20,"v":-216,"i":-8.85},{"c":20,"v":-206,"i":-8.44},{"c":20,"v":-196,"i":-8.03},{"c":20,"v":-186,"i":-7.63},{"c":20,"v":-176,"i":-7.22},{"c":20,"v":-166,"i":-6.81},{"c":20,"v":-156,"i":-6.4},{"c":20,"v":-146,"i":-5.99},{"c":20,"v":-136,"i":-5.58},{"c":20,"v":-126,"i":-5.18},{"c":20,"v":-116,"i":-4.77},{"c":20,"v":-106,"i":-4.36},{"c":20,"v":-96,"i":-3.95},{"c":20,"v":-86,"i":-3.54},{"c":20,"v":-76,"i":-3.13},{"c":20,"v":-66,"i":-2.73},{"c":20,"v":-57,"i":-2.36},
{"c":100,"v":-230,"i":-7.52},{"c":100,"v":-220,"i":-7.18},{"c":100,"v":-210,"i":-6.84},{"c":100,"v":-200,"i":-6.5},{"c":100,"v":-190,"i":-6.15},{"c":100,"v":-180,"i":-5.81},{"c":100,"v":-170,"i":-5.47},{"c":100,"v":-160,"i":-5.13},{"c":100,"v":-150,"i":-4.79},{"c":100,"v":-140,"i":-4.45},{"c":100,"v":-130,"i":-4.11},{"c":100,"v":-120,"i":-3.77},{"c":100,"v":-110,"i":-3.43},{"c":100,"v":-100,"i":-3.08},{"c":100,"v":-90,"i":-2.74},{"c":100,"v":-77,"i":-2.3},
{"c":50,"v":-223,"i":-7.64},{"c":50,"v":-213,"i":-7.29},{"c":50,"v":-203,"i":-6.95},{"c":50,"v":-193,"i":-6.6},{"c":50,"v":-183,"i":-6.25},{"c":50,"v":-173,"i":-5.91},{"c":50,"v":-163,"i":-5.56},{"c":50,"v":-153,"i":-5.21},{"c":50,"v":-143,"i":-4.87},{"c":50,"v":-133,"i":-4.52},{"c":50,"v":-123,"i":-4.17},{"c":50,"v":-113,"i":-3.83},{"c":50,"v":-103,"i":-3.48},{"c":50,"v":-93,"i":-3.13},{"c":50,"v":-83,"i":-2.79},{"c":50,"v":-69,"i":-2.3}
],
"H":[
{"c":0.1,"v":-203,"i":-11.83},{"c":0.1,"v":-193,"i":-11.27},{"c":0.1,"v":-183,"i":-10.7},{"c":0.1,"v":-173,"i":-10.14},{"c":0.1,"v":-163,"i":-9.57},{"c":0.1,"v":-153,"i":-9.01},{"c":0.1,"v":-143,"i":-8.44},{"c":0.1,"v":-133,"i":-7.88},{"c":0.1,"v":-123,"i":-7.31},{"c":0.1,"v":-113,"i":-6.75},{"c":0.1,"v":-103,"i":-6.18},{"c":0.1,"v":-93,"i":-5.62},{"c":0.1,"v":-83,"i":-5.05},{"c":0.1,"v":-73,"i":-4.49},{"c":0.1,"v":-63,"i":-3.92},{"c":0.1,"v":-53,"i":-3.36},{"c":0.1,"v":-41,"i":-2.68},
{"c":0.5,"v":-205,"i":-12.07},{"c":0.5,"v":-195,"i":-11.48},{"c":0.5,"v":-185,"i":-10.89},{"c":0.5,"v":-175,"i":-10.29},{"c":0.5,"v":-165,"i":-9.7},{"c":0.5,"v":-155,"i":-9.11},{"c":0.5,"v":-145,"i":-8.52},{"c":0.5,"v":-135,"i":-7.93},{"c":0.5,"v":-125,"i":-7.33},{"c":0.5,"v":-115,"i":-6.74},{"c":0.5,"v":-105,"i":-6.15},{"c":0.5,"v":-95,"i":-5.56},{"c":0.5,"v":-85,"i":-4.96},{"c":0.5,"v":-75,"i":-4.37},{"c":0.5,"v":-65,"i":-3.78},{"c":0.5,"v":-55,"i":-3.19},{"c":0.5,"v":-40,"i":-2.3},
{"c":0,"v":-207,"i":-13.49},{"c":0,"v":-197,"i":-12.85},{"c":0,"v":-187,"i":-12.22},{"c":0,"v":-177,"i":-11.58},{"c":0,"v":-167,"i":-10.94},{"c":0,"v":-157,"i":-10.3},{"c":0,"v":-147,"i":-9.67},{"c":0,"v":-137,"i":-9.03},{"c":0,"v":-127,"i":-8.39},{"c":0,"v":-117,"i":-7.76},{"c":0,"v":-107,"i":-7.12},{"c":0,"v":-97,"i":-6.48},{"c":0,"v":-87,"i":-5.84},{"c":0,"v":-77,"i":-5.21},{"c":0,"v":-67,"i":-4.57},{"c":0,"v":-57,"i":-3.93},{"c":0,"v":-40,"i":-2.85},
{"c":1,"v":-208,"i":-11.78},{"c":1,"v":-198,"i":-11.22},{"c":1,"v":-188,"i":-10.65},{"c":1,"v":-178,"i":-10.09},{"c":1,"v":-168,"i":-9.52},{"c":1,"v":-158,"i":-8.96},{"c":1,"v":-148,"i":-8.4},{"c":1,"v":-138,"i":-7.83},{"c":1,"v":-128,"i":-7.27},{"c":1,"v":-118,"i":-6.7},{"c":1,"v":-108,"i":-6.14},{"c":1,"v":-98,"i":-5.57},{"c":1,"v":-88,"i":-5.01},{"c":1,"v":-78,"i":-4.45},{"c":1,"v":-68,"i":-3.88},{"c":1,"v":-58,"i":-3.32},{"c":1,"v":-40,"i":-2.3},
{"c":2,"v":-215,"i":-12.2},{"c":2,"v":-205,"i":-11.45},{"c":2,"v":-195,"i":-11.07},{"c":2,"v":-185,"i":-10.51},{"c":2,"v":-175,"i":-9.95},{"c":2,"v":-165,"i":-9.39},{"c":2,"v":-155,"i":-8.82},{"c":2,"v":-145,"i":-8.26},{"c":2,"v":-135,"i":-7.7},{"c":2,"v":-125,"i":-7.13},{"c":2,"v":-115,"i":-6.57},{"c":2,"v":-105,"i":-6.01},{"c":2,"v":-95,"i":-5.44},{"c":2,"v":-85,"i":-4.88},{"c":2,"v":-75,"i":-4.32},{"c":2,"v":-65,"i":-3.76},{"c":2,"v":-55,"i":-3.19},{"c":2,"v":-45,"i":-2.63},{"c":2,"v":-35,"i":-2.07},
{"c":5,"v":-207,"i":-10.37},{"c":5,"v":-197,"i":-9.87},{"c":5,"v":-187,"i":-9.36},{"c":5,"v":-177,"i":-8.86},{"c":5,"v":-167,"i":-8.36},{"c":5,"v":-157,"i":-7.85},{"c":5,"v":-147,"i":-7.35},{"c":5,"v":-137,"i":-6.85},{"c":5,"v":-127,"i":-6.35},{"c":5,"v":-117,"i":-5.84},{"c":5,"v":-107,"i":-5.34},{"c":5,"v":-97,"i":-4.84},{"c":5,"v":-87,"i":-4.33},{"c":5,"v":-77,"i":-3.83},{"c":5,"v":-67,"i":-3.33},{"c":5,"v":-57,"i":-2.82},{"c":5,"v":-42,"i":-2.07},
{"c":10,"v":-216,"i":-9.59},{"c":10,"v":-206,"i":-9.14},{"c":10,"v":-196,"i":-8.69},{"c":10,"v":-186,"i":-8.25},{"c":10,"v":-176,"i":-7.8},{"c":10,"v":-166,"i":-7.35},{"c":10,"v":-156,"i":-6.9},{"c":10,"v":-146,"i":-6.45},{"c":10,"v":-136,"i":-6},{"c":10,"v":-126,"i":-5.56},{"c":10,"v":-116,"i":-5.11},{"c":10,"v":-106,"i":-4.66},{"c":10,"v":-96,"i":-4.21},{"c":10,"v":-86,"i":-3.76},{"c":10,"v":-76,"i":-3.31},{"c":10,"v":-66,"i":-2.87},{"c":10,"v":-56,"i":-2.42},{"c":10,"v":-44,"i":-1.88},
{"c":20,"v":-207,"i":-8.66},{"c":20,"v":-197,"i":-8.24},{"c":20,"v":-187,"i":-7.81},{"c":20,"v":-177,"i":-7.39},{"c":20,"v":-167,"i":-6.96},{"c":20,"v":-157,"i":-6.54},{"c":20,"v":-147,"i":-6.11},{"c":20,"v":-137,"i":-5.69},{"c":20,"v":-127,"i":-5.26},{"c":20,"v":-117,"i":-4.84},{"c":20,"v":-107,"i":-4.41},{"c":20,"v":-97,"i":-3.99},{"c":20,"v":-87,"i":-3.56},{"c":20,"v":-77,"i":-3.14},{"c":20,"v":-67,"i":-2.71},{"c":20,"v":-57,"i":-2.29},{"c":20,"v":-49,"i":-1.95},
{"c":100,"v":-205,"i":-7.1},{"c":100,"v":-195,"i":-6.75},{"c":100,"v":-185,"i":-6.41},{"c":100,"v":-175,"i":-6.06},{"c":100,"v":-165,"i":-5.72},{"c":100,"v":-155,"i":-5.37},{"c":100,"v":-145,"i":-5.03},{"c":100,"v":-135,"i":-4.68},{"c":100,"v":-125,"i":-4.34},{"c":100,"v":-115,"i":-3.99},{"c":100,"v":-105,"i":-3.65},{"c":100,"v":-95,"i":-3.3},{"c":100,"v":-85,"i":-2.96},{"c":100,"v":-75,"i":-2.61},{"c":100,"v":-65,"i":-2.27},{"c":100,"v":-51,"i":-1.78},
{"c":50,"v":-212,"i":-7.37},{"c":50,"v":-202,"i":-7.02},{"c":50,"v":-192,"i":-6.68},{"c":50,"v":-182,"i":-6.33},{"c":50,"v":-172,"i":-5.98},{"c":50,"v":-162,"i":-5.63},{"c":50,"v":-152,"i":-5.29},{"c":50,"v":-142,"i":-4.94},{"c":50,"v":-132,"i":-4.59},{"c":50,"v":-122,"i":-4.24},{"c":50,"v":-112,"i":-3.9},{"c":50,"v":-102,"i":-3.55},{"c":50,"v":-92,"i":-3.2},{"c":50,"v":-82,"i":-2.85},{"c":50,"v":-72,"i":-2.51},{"c":50,"v":-56,"i":-1.95}
],
"I":[
{"c":0.1,"v":-192,"i":-16.2},{"c":0.1,"v":-182,"i":-15.55},{"c":0.1,"v":-172,"i":-14.57},{"c":0.1,"v":-162,"i":-13.76},{"c":0.1,"v":-152,"i":-12.94},{"c":0.1,"v":-142,"i":-12},{"c":0.1,"v":-132,"i":-11.31},{"c":0.1,"v":-122,"i":-10.5},{"c":0.1,"v":-112,"i":-9.68},{"c":0.1,"v":-102,"i":-8.75},{"c":0.1,"v":-92,"i":-8.05},{"c":0.1,"v":-82,"i":-7.24},{"c":0.1,"v":-72,"i":-6.42},{"c":0.1,"v":-62,"i":-5.61},{"c":0.1,"v":-52,"i":-4.79},{"c":0.1,"v":-42,"i":-3.98},{"c":0.1,"v":-30,"i":-3},
{"c":0.5,"v":-201,"i":-16.1},{"c":0.5,"v":-191,"i":-14.6},{"c":0.5,"v":-181,"i":-14.3},{"c":0.5,"v":-171,"i":-13.53},{"c":0.5,"v":-161,"i":-12.76},{"c":0.5,"v":-151,"i":-11.99},{"c":0.5,"v":-141,"i":-11.22},{"c":0.5,"v":-131,"i":-10.45},{"c":0.5,"v":-121,"i":-9.69},{"c":0.5,"v":-111,"i":-8.92},{"c":0.5,"v":-101,"i":-8.15},{"c":0.5,"v":-91,"i":-7.38},{"c":0.5,"v":-81,"i":-6.61},{"c":0.5,"v":-71,"i":-5.84},{"c":0.5,"v":-61,"i":-5.07},{"c":0.5,"v":-51,"i":-4.3},{"c":0.5,"v":-38,"i":-3.3},
{"c":1,"v":-176,"i":-12.45},{"c":1,"v":-166,"i":-11.64},{"c":1,"v":-156,"i":-10.84},{"c":1,"v":-146,"i":-10.06},{"c":1,"v":-136,"i":-9.3},{"c":1,"v":-126,"i":-8.56},{"c":1,"v":-116,"i":-7.83},{"c":1,"v":-106,"i":-7.12},{"c":1,"v":-96,"i":-6.43},{"c":1,"v":-86,"i":-5.76},{"c":1,"v":-76,"i":-5.11},{"c":1,"v":-66,"i":-4.47},{"c":1,"v":-56,"i":-3.85},{"c":1,"v":-46,"i":-3.25},{"c":1,"v":-36,"i":-2.68},{"c":1,"v":-22,"i":-1.83},
{"c":2,"v":-190,"i":-10.95},{"c":2,"v":-180,"i":-10.33},{"c":2,"v":-170,"i":-9.72},{"c":2,"v":-160,"i":-9.12},{"c":2,"v":-150,"i":-8.53},{"c":2,"v":-140,"i":-7.94},{"c":2,"v":-130,"i":-7.37},{"c":2,"v":-120,"i":-6.81},{"c":2,"v":-110,"i":-6.25},{"c":2,"v":-100,"i":-5.71},{"c":2,"v":-90,"i":-5.17},{"c":2,"v":-80,"i":-4.65},{"c":2,"v":-70,"i":-4.14},{"c":2,"v":-60,"i":-3.63},{"c":2,"v":-50,"i":-3.13},{"c":2,"v":-40,"i":-2.64},{"c":2,"v":-29,"i":-2.1},
{"c":5,"v":-185,"i":-8.72},{"c":5,"v":-175,"i":-8.25},{"c":5,"v":-165,"i":-7.79},{"c":5,"v":-155,"i":-7.32},{"c":5,"v":-145,"i":-6.86},{"c":5,"v":-135,"i":-6.39},{"c":5,"v":-125,"i":-5.93},{"c":5,"v":-115,"i":-5.46},{"c":5,"v":-105,"i":-4.99},{"c":5,"v":-95,"i":-4.53},{"c":5,"v":-85,"i":-4.06},{"c":5,"v":-75,"i":-3.6},{"c":5,"v":-65,"i":-3.13},{"c":5,"v":-55,"i":-2.67},{"c":5,"v":-45,"i":-2.2},{"c":5,"v":-34,"i":-1.69},
{"c":10,"v":-187,"i":-7.08},{"c":10,"v":-177,"i":-6.71},{"c":10,"v":-167,"i":-6.35},{"c":10,"v":-157,"i":-5.98},{"c":10,"v":-147,"i":-5.61},{"c":10,"v":-137,"i":-5.25},{"c":10,"v":-127,"i":-4.88},{"c":10,"v":-117,"i":-4.51},{"c":10,"v":-107,"i":-4.15},{"c":10,"v":-97,"i":-3.78},{"c":10,"v":-87,"i":-3.41},{"c":10,"v":-77,"i":-3.05},{"c":10,"v":-67,"i":-2.68},{"c":10,"v":-57,"i":-2.31},{"c":10,"v":-40,"i":-1.69},
{"c":20,"v":-189,"i":-6.19},{"c":20,"v":-179,"i":-5.88},{"c":20,"v":-169,"i":-5.56},{"c":20,"v":-159,"i":-5.25},{"c":20,"v":-149,"i":-4.93},{"c":20,"v":-139,"i":-4.62},{"c":20,"v":-129,"i":-4.31},{"c":20,"v":-119,"i":-3.99},{"c":20,"v":-109,"i":-3.68},{"c":20,"v":-99,"i":-3.37},{"c":20,"v":-89,"i":-3.05},{"c":20,"v":-79,"i":-2.74},{"c":20,"v":-69,"i":-2.42},{"c":20,"v":-59,"i":-2.11},{"c":20,"v":-49,"i":-1.8},{"c":20,"v":-39,"i":-1.48},{"c":20,"v":-30,"i":-1.2},
{"c":100,"v":-211,"i":-4.96},{"c":100,"v":-201,"i":-4.72},{"c":100,"v":-191,"i":-4.48},{"c":100,"v":-181,"i":-4.24},{"c":100,"v":-171,"i":-4},{"c":100,"v":-161,"i":-3.76},{"c":100,"v":-151,"i":-3.52},{"c":100,"v":-141,"i":-3.28},{"c":100,"v":-131,"i":-3.04},{"c":100,"v":-121,"i":-2.8},{"c":100,"v":-111,"i":-2.57},{"c":100,"v":-101,"i":-2.33},{"c":100,"v":-91,"i":-2.09},{"c":100,"v":-81,"i":-1.85},{"c":100,"v":-71,"i":-1.61},{"c":100,"v":-54,"i":-1.2},
{"c":50,"v":-197,"i":-5.23},{"c":50,"v":-187,"i":-4.96},{"c":50,"v":-177,"i":-4.7},{"c":50,"v":-167,"i":-4.43},{"c":50,"v":-157,"i":-4.17},{"c":50,"v":-147,"i":-3.9},{"c":50,"v":-137,"i":-3.64},{"c":50,"v":-127,"i":-3.37},{"c":50,"v":-117,"i":-3.11},{"c":50,"v":-107,"i":-2.84},{"c":50,"v":-97,"i":-2.58},{"c":50,"v":-87,"i":-2.31},{"c":50,"v":-77,"i":-2.05},{"c":50,"v":-67,"i":-1.78},{"c":50,"v":-51,"i":-1.36}
]
},
"concat":[
{"width":295,"height":208,"title":{"text":"A","dx":-17,"offset":-10},"data":{"name":"A"},
"encoding":{"x":{"field":"v","type":"quantitative","scale":{"domain":[-225,0],"nice":false,"zero":false},"axis":{"orient":"top","title":null,"values":[-225,-200,-175,-150,-125,-100,-75,-50,-25,0],"labelExpr":"datum.value % 50 != 0 ? '' : datum.value < 0 ? '-' + abs(datum.value) : '0'"}},
"y":{"field":"i","type":"quantitative","scale":{"domain":[-10,0],"nice":false,"zero":false},"axis":{"orient":"right","title":null,"values":[0,-1.25,-2.5,-3.75,-5,-6.25,-7.5,-8.75,-10],"labelExpr":"datum.value % 2.5 != 0 ? '' : datum.value < 0 ? '-' + format(abs(datum.value), '.1f') : '0.0'"}}},
"layer":[
{"mark":{"type":"circle","size":75,"opacity":1},"encoding":{"color":{"field":"c","type":"nominal","scale":{"domain":[0,0.1,0.5,1,2,5,10,20,50,100,200],"range":["#000000","#800000","#FF8000","#808000","#0000FF","#FF00FF","#00FFFF","#008000","#808080","#FF0000","#800080"]},"legend":{"title":"[Ca²⁺]ₒ (mM)"}}}},
{"transform":[{"regression":"i","on":"v","groupby":["c"],"method":"poly","order":2}],"mark":{"type":"line","strokeWidth":1.5},"encoding":{"stroke":{"field":"c","type":"nominal","scale":{"domain":[0,0.1,0.5,1,2,5,10,20,50,100,200],"range":["#000000","#800000","#FF8000","#808000","#0000FF","#FF00FF","#00FFFF","#008000","#808080","#FF0000","#800080"]},"legend":null}}},
{"data":{"name":"notes"},"transform":[{"filter":"datum.p == 'A'"}],"mark":{"type":"text","fill":"#000"},"encoding":{"text":{"field":"t"}}}
]},
{"width":295,"height":208,"title":{"text":"B","dx":-5,"offset":-10},"data":{"name":"B"},
"encoding":{"x":{"field":"v","type":"quantitative","scale":{"domain":[-225,0],"nice":false,"zero":false},"axis":{"orient":"top","title":null,"values":[-225,-200,-175,-150,-125,-100,-75,-50,-25,0],"labelExpr":"datum.value % 50 != 0 ? '' : datum.value < 0 ? '-' + abs(datum.value) : '0'"}},
"y":{"field":"i","type":"quantitative","scale":{"domain":[-15,0],"nice":false,"zero":false},"axis":{"orient":"right","title":null,"values":[0,-2.5,-5,-7.5,-10,-12.5,-15],"labelExpr":"datum.value % 5 != 0 ? '' : datum.value < 0 ? '-' + abs(datum.value) : '0'"}}},
"layer":[
{"mark":{"type":"circle","size":75,"opacity":1},"encoding":{"color":{"field":"c","type":"nominal","scale":{"domain":[0,0.1,0.5,1,2,5,10,20,50,100,200],"range":["#000000","#800000","#FF8000","#808000","#0000FF","#FF00FF","#00FFFF","#008000","#808080","#FF0000","#800080"]},"legend":{"title":"[Ca²⁺]ₒ (mM)"}}}},
{"transform":[{"regression":"i","on":"v","groupby":["c"],"method":"poly","order":2}],"mark":{"type":"line","strokeWidth":1.5},"encoding":{"stroke":{"field":"c","type":"nominal","scale":{"domain":[0,0.1,0.5,1,2,5,10,20,50,100,200],"range":["#000000","#800000","#FF8000","#808000","#0000FF","#FF00FF","#00FFFF","#008000","#808080","#FF0000","#800080"]},"legend":null}}},
{"data":{"name":"notes"},"transform":[{"filter":"datum.p == 'B'"}],"mark":{"type":"text","fill":"#000"},"encoding":{"text":{"field":"t"}}}
]},
{"width":295,"height":208,"title":{"text":"C","dx":-2,"offset":-10},"data":{"name":"C"},
"encoding":{"x":{"field":"v","type":"quantitative","scale":{"domain":[-225,0],"nice":false,"zero":false},"axis":{"orient":"top","title":null,"values":[-225,-200,-175,-150,-125,-100,-75,-50,-25,0],"labelExpr":"datum.value % 50 != 0 ? '' : datum.value < 0 ? '-' + abs(datum.value) : '0'"}},
"y":{"field":"i","type":"quantitative","scale":{"domain":[-15,0],"nice":false,"zero":false},"axis":{"orient":"right","title":null,"values":[0,-2.5,-5,-7.5,-10,-12.5,-15],"labelExpr":"datum.value % 5 != 0 ? '' : datum.value < 0 ? '-' + abs(datum.value) : '0'"}}},
"layer":[
{"mark":{"type":"circle","size":75,"opacity":1},"encoding":{"color":{"field":"c","type":"nominal","scale":{"domain":[0,0.1,0.5,1,2,5,10,20,50,100,200],"range":["#000000","#800000","#FF8000","#808000","#0000FF","#FF00FF","#00FFFF","#008000","#808080","#FF0000","#800080"]},"legend":{"title":"[Ca²⁺]ₒ (mM)"}}}},
{"transform":[{"regression":"i","on":"v","groupby":["c"],"method":"poly","order":2}],"mark":{"type":"line","strokeWidth":1.5},"encoding":{"stroke":{"field":"c","type":"nominal","scale":{"domain":[0,0.1,0.5,1,2,5,10,20,50,100,200],"range":["#000000","#800000","#FF8000","#808000","#0000FF","#FF00FF","#00FFFF","#008000","#808080","#FF0000","#800080"]},"legend":null}}},
{"data":{"name":"notes"},"transform":[{"filter":"datum.p == 'C'"}],"mark":{"type":"text","fill":"#000"},"encoding":{"text":{"field":"t"}}}
]},
{"width":295,"height":208,"title":{"text":"D","dx":-17,"offset":-7},"data":{"name":"D"},
"encoding":{"x":{"field":"v","type":"quantitative","scale":{"domain":[-225,0],"nice":false,"zero":false},"axis":{"orient":"top","title":null,"values":[-225,-200,-175,-150,-125,-100,-75,-50,-25,0],"labelExpr":"datum.value % 50 != 0 ? '' : datum.value < 0 ? '-' + abs(datum.value) : '0'"}},
"y":{"field":"i","type":"quantitative","scale":{"domain":[-15,0],"nice":false,"zero":false},"axis":{"orient":"right","title":null,"values":[0,-2.5,-5,-7.5,-10,-12.5,-15],"labelExpr":"datum.value % 5 != 0 ? '' : datum.value < 0 ? '-' + abs(datum.value) : '0'"}}},
"layer":[
{"mark":{"type":"circle","size":75,"opacity":1},"encoding":{"color":{"field":"c","type":"nominal","scale":{"domain":[0,0.1,0.5,1,2,5,10,20,50,100,200],"range":["#000000","#800000","#FF8000","#808000","#0000FF","#FF00FF","#00FFFF","#008000","#808080","#FF0000","#800080"]},"legend":{"title":"[Ca²⁺]ₒ (mM)"}}}},
{"transform":[{"regression":"i","on":"v","groupby":["c"],"method":"poly","order":2}],"mark":{"type":"line","strokeWidth":1.5},"encoding":{"stroke":{"field":"c","type":"nominal","scale":{"domain":[0,0.1,0.5,1,2,5,10,20,50,100,200],"range":["#000000","#800000","#FF8000","#808000","#0000FF","#FF00FF","#00FFFF","#008000","#808080","#FF0000","#800080"]},"legend":null}}},
{"data":{"name":"notes"},"transform":[{"filter":"datum.p == 'D'"}],"mark":{"type":"text","fill":"#000"},"encoding":{"text":{"field":"t"}}}
]},
{"width":295,"height":208,"title":{"text":"E","dx":-4,"offset":-7},"data":{"name":"E"},
"encoding":{"x":{"field":"v","type":"quantitative","scale":{"domain":[-225,0],"nice":false,"zero":false},"axis":{"orient":"top","title":null,"values":[-225,-200,-175,-150,-125,-100,-75,-50,-25,0],"labelExpr":"datum.value % 50 != 0 ? '' : datum.value < 0 ? '-' + abs(datum.value) : '0'"}},
"y":{"field":"i","type":"quantitative","scale":{"domain":[-15,0],"nice":false,"zero":false},"axis":{"orient":"right","title":null,"values":[0,-2.5,-5,-7.5,-10,-12.5,-15],"labelExpr":"datum.value % 5 != 0 ? '' : datum.value < 0 ? '-' + abs(datum.value) : '0'"}}},
"layer":[
{"mark":{"type":"circle","size":75,"opacity":1},"encoding":{"color":{"field":"c","type":"nominal","scale":{"domain":[0,0.1,0.5,1,2,5,10,20,50,100,200],"range":["#000000","#800000","#FF8000","#808000","#0000FF","#FF00FF","#00FFFF","#008000","#808080","#FF0000","#800080"]},"legend":{"title":"[Ca²⁺]ₒ (mM)"}}}},
{"transform":[{"regression":"i","on":"v","groupby":["c"],"method":"poly","order":2}],"mark":{"type":"line","strokeWidth":1.5},"encoding":{"stroke":{"field":"c","type":"nominal","scale":{"domain":[0,0.1,0.5,1,2,5,10,20,50,100,200],"range":["#000000","#800000","#FF8000","#808000","#0000FF","#FF00FF","#00FFFF","#008000","#808080","#FF0000","#800080"]},"legend":null}}},
{"data":{"name":"notes"},"transform":[{"filter":"datum.p == 'E'"}],"mark":{"type":"text","fill":"#000"},"encoding":{"text":{"field":"t"}}}
]},
{"width":295,"height":208,"title":{"text":"F","dx":-2,"offset":-7},"data":{"name":"F"},
"encoding":{"x":{"field":"v","type":"quantitative","scale":{"domain":[-225,0],"nice":false,"zero":false},"axis":{"orient":"top","title":null,"values":[-225,-200,-175,-150,-125,-100,-75,-50,-25,0],"labelExpr":"datum.value % 50 != 0 ? '' : datum.value < 0 ? '-' + abs(datum.value) : '0'"}},
"y":{"field":"i","type":"quantitative","scale":{"domain":[-15,0],"nice":false,"zero":false},"axis":{"orient":"right","title":"Current (pA)","titleFont":"Liberation Sans","titleFontSize":40,"titleFontWeight":"normal","titleColor":"#000","titleAngle":90,"titleX":70,"titleY":62,"titleAlign":"center","titleBaseline":"middle","values":[0,-2.5,-5,-7.5,-10,-12.5,-15],"labelExpr":"datum.value % 5 != 0 ? '' : datum.value < 0 ? '-' + abs(datum.value) : '0'"}}},
"layer":[
{"mark":{"type":"circle","size":75,"opacity":1},"encoding":{"color":{"field":"c","type":"nominal","scale":{"domain":[0,0.1,0.5,1,2,5,10,20,50,100,200],"range":["#000000","#800000","#FF8000","#808000","#0000FF","#FF00FF","#00FFFF","#008000","#808080","#FF0000","#800080"]},"legend":{"title":"[Ca²⁺]ₒ (mM)"}}}},
{"transform":[{"regression":"i","on":"v","groupby":["c"],"method":"poly","order":2}],"mark":{"type":"line","strokeWidth":1.5},"encoding":{"stroke":{"field":"c","type":"nominal","scale":{"domain":[0,0.1,0.5,1,2,5,10,20,50,100,200],"range":["#000000","#800000","#FF8000","#808000","#0000FF","#FF00FF","#00FFFF","#008000","#808080","#FF0000","#800080"]},"legend":null}}},
{"data":{"name":"notes"},"transform":[{"filter":"datum.p == 'F'"}],"mark":{"type":"text","fill":"#000"},"encoding":{"text":{"field":"t"}}}
]},
{"width":295,"height":208,"title":{"text":"G","dx":-17,"offset":5},"data":{"name":"G"},
"encoding":{"x":{"field":"v","type":"quantitative","scale":{"domain":[-250,0],"nice":false,"zero":false},"axis":{"orient":"top","title":null,"values":[-250,-225,-200,-175,-150,-125,-100,-75,-50,-25,0],"labelExpr":"datum.value % 50 != 0 ? '' : datum.value < 0 ? '-' + abs(datum.value) : '0'"}},
"y":{"field":"i","type":"quantitative","scale":{"domain":[-15,0],"nice":false,"zero":false},"axis":{"orient":"right","title":null,"values":[0,-2.5,-5,-7.5,-10,-12.5,-15],"labelExpr":"datum.value % 5 != 0 ? '' : datum.value < 0 ? '-' + abs(datum.value) : '0'"}}},
"layer":[
{"mark":{"type":"circle","size":75,"opacity":1},"encoding":{"color":{"field":"c","type":"nominal","scale":{"domain":[0,0.1,0.5,1,2,5,10,20,50,100,200],"range":["#000000","#800000","#FF8000","#808000","#0000FF","#FF00FF","#00FFFF","#008000","#808080","#FF0000","#800080"]},"legend":{"title":"[Ca²⁺]ₒ (mM)"}}}},
{"transform":[{"regression":"i","on":"v","groupby":["c"],"method":"poly","order":2}],"mark":{"type":"line","strokeWidth":1.5},"encoding":{"stroke":{"field":"c","type":"nominal","scale":{"domain":[0,0.1,0.5,1,2,5,10,20,50,100,200],"range":["#000000","#800000","#FF8000","#808000","#0000FF","#FF00FF","#00FFFF","#008000","#808080","#FF0000","#800080"]},"legend":null}}},
{"data":{"name":"notes"},"transform":[{"filter":"datum.p == 'G'"}],"mark":{"type":"text","fill":"#000"},"encoding":{"text":{"field":"t"}}}
]},
{"width":295,"height":208,"title":{"text":"H","dx":-4,"offset":8},"data":{"name":"H"},
"encoding":{"x":{"field":"v","type":"quantitative","scale":{"domain":[-225,0],"nice":false,"zero":false},"axis":{"orient":"top","title":null,"values":[-225,-200,-175,-150,-125,-100,-75,-50,-25,0],"labelExpr":"datum.value % 50 != 0 ? '' : datum.value < 0 ? '-' + abs(datum.value) : '0'"}},
"y":{"field":"i","type":"quantitative","scale":{"domain":[-15,0],"nice":false,"zero":false},"axis":{"orient":"right","title":null,"values":[0,-2.5,-5,-7.5,-10,-12.5,-15],"labelExpr":"datum.value % 5 != 0 ? '' : datum.value < 0 ? '-' + abs(datum.value) : '0'"}}},
"layer":[
{"mark":{"type":"circle","size":75,"opacity":1},"encoding":{"color":{"field":"c","type":"nominal","scale":{"domain":[0,0.1,0.5,1,2,5,10,20,50,100,200],"range":["#000000","#800000","#FF8000","#808000","#0000FF","#FF00FF","#00FFFF","#008000","#808080","#FF0000","#800080"]},"legend":{"title":"[Ca²⁺]ₒ (mM)"}}}},
{"transform":[{"regression":"i","on":"v","groupby":["c"],"method":"poly","order":2}],"mark":{"type":"line","strokeWidth":1.5},"encoding":{"stroke":{"field":"c","type":"nominal","scale":{"domain":[0,0.1,0.5,1,2,5,10,20,50,100,200],"range":["#000000","#800000","#FF8000","#808000","#0000FF","#FF00FF","#00FFFF","#008000","#808080","#FF0000","#800080"]},"legend":null}}},
{"data":{"name":"notes"},"transform":[{"filter":"datum.p == 'H'"}],"mark":{"type":"text","fill":"#000"},"encoding":{"text":{"field":"t"}}}
]},
{"width":295,"height":208,"title":{"text":"I","dx":-2,"offset":8},"data":{"name":"I"},
"encoding":{"x":{"field":"v","type":"quantitative","scale":{"domain":[-225,0],"nice":false,"zero":false},"axis":{"orient":"top","title":null,"values":[-225,-200,-175,-150,-125,-100,-75,-50,-25,0],"labelExpr":"datum.value % 50 != 0 ? '' : datum.value < 0 ? '-' + abs(datum.value) : '0'"}},
"y":{"field":"i","type":"quantitative","scale":{"domain":[-17,0],"nice":false,"zero":false},"axis":{"orient":"right","title":null,"values":[0,-2.5,-5,-7.5,-10,-12.5,-15],"labelExpr":"datum.value % 5 != 0 ? '' : datum.value < 0 ? '-' + abs(datum.value) : '0'"}}},
"layer":[
{"mark":{"type":"circle","size":75,"opacity":1},"encoding":{"color":{"field":"c","type":"nominal","scale":{"domain":[0,0.1,0.5,1,2,5,10,20,50,100,200],"range":["#000000","#800000","#FF8000","#808000","#0000FF","#FF00FF","#00FFFF","#008000","#808080","#FF0000","#800080"]},"legend":{"title":"[Ca²⁺]ₒ (mM)"}}}},
{"transform":[{"regression":"i","on":"v","groupby":["c"],"method":"poly","order":2}],"mark":{"type":"line","strokeWidth":1.5},"encoding":{"stroke":{"field":"c","type":"nominal","scale":{"domain":[0,0.1,0.5,1,2,5,10,20,50,100,200],"range":["#000000","#800000","#FF8000","#808000","#0000FF","#FF00FF","#00FFFF","#008000","#808080","#FF0000","#800080"]},"legend":null}}},
{"data":{"name":"notes"},"transform":[{"filter":"datum.p == 'I'"}],"mark":{"type":"text","fill":"#000","lineHeight":28},"encoding":{"text":{"field":"t"}}}
]}
]
}
